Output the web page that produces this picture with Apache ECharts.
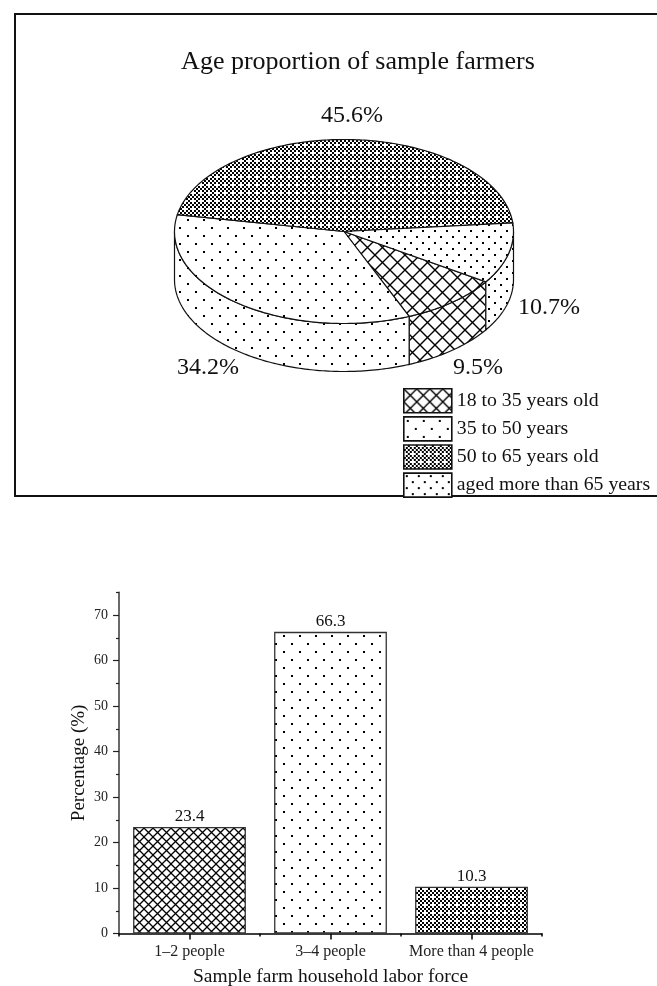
<!DOCTYPE html>
<html>
<head>
<meta charset="utf-8">
<style>html,body{margin:0;padding:0;background:#fff}#c{width:657px;height:986px}</style>
<script src="https://cdn.jsdelivr.net/npm/echarts@6/dist/echarts.min.js"></script>
</head>
<body>
<div id="c"></div>
<script>
const pieCategories = ['18 to 35 years old', '35 to 50 years', '50 to 65 years old', 'aged more than 65 years'];
const pieValues = [9.5, 34.2, 45.6, 10.7];
const pieTitle = 'Age proportion of sample farmers';
const barCategories = ['1–2 people', '3–4 people', 'More than 4 people'];
const barValues = [23.4, 66.3, 10.3];
const yMajorTicks = [0, 10, 20, 30, 40, 50, 60, 70];
const yMinorTicks = [5, 15, 25, 35, 45, 55, 65, 75];

const FONT = '"Liberation Serif", serif';
const INK = '#111';

function tile(w, h, draw) {
  const c = document.createElement('canvas');
  c.width = w; c.height = h;
  const g = c.getContext('2d');
  g.fillStyle = '#fff'; g.fillRect(0, 0, w, h);
  g.fillStyle = '#000'; g.strokeStyle = '#000';
  draw(g);
  return { image: c, repeat: 'repeat' };
}
function hatch(s, lw) {
  return tile(s, s, g => {
    g.lineWidth = lw;
    g.beginPath();
    g.moveTo(-1, -1); g.lineTo(s + 1, s + 1);
    g.moveTo(-1, s + 1); g.lineTo(s + 1, -1);
    g.stroke();
  });
}
function dots(w, h, r) {
  return tile(w, h, g => {
    g.fillRect(w / 4 - r / 2, h / 4 - r / 2, r, r);
    g.fillRect(3 * w / 4 - r / 2, 3 * h / 4 - r / 2, r, r);
  });
}
function dense() {
  return tile(8, 8, g => {
    const cells = [[4,0],[2,2],[6,2],[0,4],[4,4],[2,6],[6,6]];
    cells.forEach(p => g.fillRect(p[0], p[1], 2, 2));
  });
}
const piePatterns = [hatch(15, 1.4), dots(16, 16, 2), dense(), dots(12, 12, 2)];
const legendPatterns = [hatch(13, 1.4), dots(16, 16, 2), dense(), dots(12, 12, 2)];
const barPatterns = [hatch(9, 1.3), dots(16, 16, 2), dense()];

const PIE = { cx: 344, cy: 231.5, rx: 169.5, ry: 92, depth: 48, start: 33.2 };

function pt(deg, dy) {
  const t = deg * Math.PI / 180;
  return [PIE.cx + PIE.rx * Math.cos(t), PIE.cy + PIE.ry * Math.sin(t) + (dy || 0)];
}
function arc(a, b, dy) {
  const out = [], n = Math.max(2, Math.ceil(Math.abs(b - a)));
  for (let i = 0; i <= n; i++) out.push(pt(a + (b - a) * i / n, dy));
  return out;
}
function renderSlice(params) {
  const i = params.seriesIndex;
  const total = pieValues.reduce((s, v) => s + v, 0);
  const before = pieValues.slice(0, i).reduce((s, v) => s + v, 0);
  const a = PIE.start + before / total * 360;
  const b = a + pieValues[i] / total * 360;
  const fill = piePatterns[i];
  const style = { fill, stroke: INK, lineWidth: 1.2 };
  const children = [];
  [[0, 180], [360, 540]].forEach(r => {
    const s = Math.max(a, r[0]), e = Math.min(b, r[1]);
    if (e > s) {
      const points = arc(s, e, 0).concat(arc(e, s, PIE.depth));
      children.push({ type: 'polygon', shape: { points }, style });
    }
  });
  children.push({
    type: 'polygon',
    shape: { points: [[PIE.cx, PIE.cy]].concat(arc(a, b, 0)) },
    style
  });
  return { type: 'group', children };
}
const pieSeries = pieCategories.map((name, i) => ({
  type: 'custom',
  name,
  coordinateSystem: 'none',
  silent: true,
  animation: false,
  itemStyle: { color: legendPatterns[i], borderColor: INK, borderWidth: 1.6 },
  renderItem: renderSlice,
  data: [[pieValues[i]]]
}));

const pctLabelPos = [[478, 368], [208, 368], [352, 116], [549, 308]];
const pctText = pieValues.map((v, i) => ({
  type: 'text',
  x: pctLabelPos[i][0], y: pctLabelPos[i][1],
  style: { text: v.toFixed(1) + '%', font: '24px ' + FONT, fill: INK, align: 'center', verticalAlign: 'middle' }
}));

const option = {
  animation: false,
  backgroundColor: '#fff',
  title: {
    text: pieTitle, left: 353, top: 44, textAlign: 'center',
    textStyle: { fontFamily: FONT, fontSize: 26, fontWeight: 'normal', color: INK }
  },
  legend: {
    orient: 'vertical', left: 403, top: 388, itemWidth: 48, itemHeight: 24, itemGap: 2.5,
    selectedMode: false, padding: 0,
    textStyle: { fontFamily: FONT, fontSize: 19.8, color: INK, padding: [0, 0, 0, 0] },
    data: pieCategories.map((name, i) => ({
      name, icon: 'rect',
      itemStyle: { color: legendPatterns[i], borderColor: INK, borderWidth: 1.6 }
    }))
  },
  graphic: {
    elements: [
      {
        type: 'polyline',
        shape: { points: [[660, 14], [15, 14], [15, 496], [660, 496]] },
        style: { stroke: INK, lineWidth: 2, fill: null }
      },
      ...pctText
    ]
  },
  grid: { left: 119, right: 115, top: 592.25, height: 341.25, outerBoundsMode: 'none' },
  xAxis: [
    {
      type: 'category', data: barCategories, position: 'bottom',
      axisLine: { lineStyle: { color: '#000', width: 1.5 } },
      axisTick: { show: true, alignWithLabel: true, interval: 0, length: 6, lineStyle: { color: '#000', width: 1.5 } },
      axisLabel: { interval: 0, hideOverlap: false, fontFamily: FONT, fontSize: 16, color: '#222', margin: 10 },
      name: 'Sample farm household labor force', nameLocation: 'middle', nameGap: 33,
      nameTextStyle: { fontFamily: FONT, fontSize: 19.5, color: INK }
    },
    {
      type: 'category', data: barCategories, position: 'bottom',
      axisLine: { show: false },
      axisTick: { show: true, alignWithLabel: false, interval: 0, length: 3, lineStyle: { color: '#000', width: 1.5 } },
      axisLabel: { show: false }
    }
  ],
  yAxis: [
    {
      type: 'value', min: 0, max: 75, splitLine: { show: false },
      axisLine: { show: true, lineStyle: { color: '#444', width: 1.6 } },
      axisTick: { show: true, length: 6, customValues: yMajorTicks, lineStyle: { color: '#222', width: 1.2 } },
      axisLabel: { customValues: yMajorTicks, fontFamily: FONT, fontSize: 14, color: '#222', margin: 11 },
      name: 'Percentage (%)', nameLocation: 'middle', nameGap: 30, nameRotate: 90, nameMoveOverlap: false,
      nameTextStyle: { fontFamily: FONT, fontSize: 19, color: INK }
    },
    {
      type: 'value', min: 0, max: 75, position: 'left', splitLine: { show: false },
      axisLine: { show: false },
      axisTick: { show: true, length: 3, customValues: yMinorTicks, lineStyle: { color: '#222', width: 1.2 } },
      axisLabel: { show: false }
    }
  ],
  series: [
    ...pieSeries,
    {
      type: 'bar', name: 'Percentage', barWidth: '80%', xAxisIndex: 0, yAxisIndex: 0,
      animation: false, silent: true,
      label: { show: true, position: 'top', distance: 2, fontFamily: FONT, fontSize: 17, color: INK, formatter: p => p.value.toFixed(1) },
      data: barValues.map((v, i) => ({
        value: v,
        itemStyle: { color: barPatterns[i], borderColor: '#333', borderWidth: 1.3 }
      }))
    }
  ]
};
const chart = echarts.init(document.getElementById('c'), null, { renderer: 'canvas' });
chart.setOption(option);
</script>
</body>
</html>
